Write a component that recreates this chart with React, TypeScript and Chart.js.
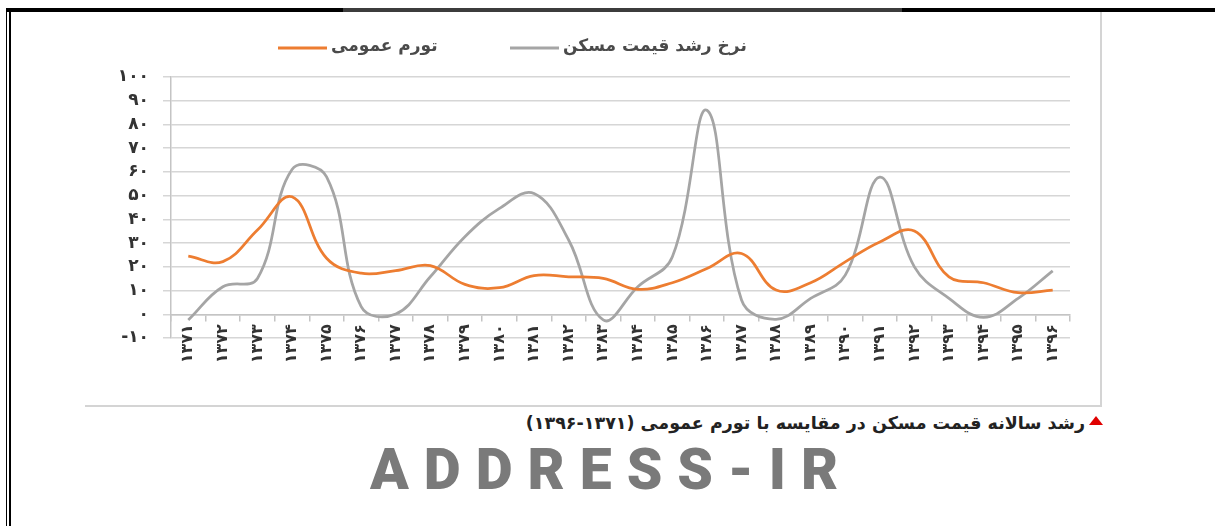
import React, { useEffect, useRef } from "react";
import { Chart, registerables } from "chart.js";

Chart.register(...registerables);

const years = ["1371","1372","1373","1374","1375","1376","1377","1378","1379","1380","1381","1382","1383","1384","1385","1386","1387","1388","1389","1390","1391","1392","1393","1394","1395","1396"];
const inflation = [24.5, 22.2, 35.5, 49.5, 23.6, 17.3, 18.4, 20.5, 12.6, 11.2, 16.3, 15.8, 15.1, 10.5, 13.3, 19.3, 25.6, 10.2, 13.3, 22.1, 30.5, 35.1, 15.8, 13.3, 9.1, 10.2];
const housing = [-2.4, 11.6, 15.1, 61, 57.9, 3.2, 0.1, 15.8, 32.7, 44.6, 50.9, 31.3, -2.4, 11.6, 24.2, 86, 6.0, -2.1, 6.7, 16.5, 57.8, 20, 6.7, -1.3, 6.7, 18.3];
const seriesNames = ["تورم عمومی", "نرخ رشد قیمت مسکن"];
const yMin = -10;
const yMax = 100;
const yStep = 10;
const caption = "رشد سالانه قیمت مسکن در مقایسه با تورم عمومی (۱۳۷۱-۱۳۹۶)";
const logoText = "ADDRESS-IR";

const FA = "۰۱۲۳۴۵۶۷۸۹";
const toFa = (s: string) => s.replace(/\d/g, (d) => FA[Number(d)]);

const spacingPlugin = {
  id: "tickSpacing",
  beforeDraw(chart: any) {
    chart.ctx.letterSpacing = "3px";
  },
};

const legendPlugin = {
  id: "fixedLegend",
  afterDraw(chart: any) {
    const ctx = chart.ctx;
    const left = chart.chartArea.left;
    const spots = [
      { lineX: left + 107, textX: left + 160 },
      { lineX: left + 339, textX: left + 392 },
    ];
    ctx.save();
    ctx.letterSpacing = "0px";
    chart.data.datasets.forEach((ds: any, i: number) => {
      const s = spots[i];
      const y = 28;
      ctx.strokeStyle = ds.borderColor;
      ctx.lineWidth = 3;
      ctx.beginPath();
      ctx.moveTo(s.lineX, y);
      ctx.lineTo(s.lineX + 49, y);
      ctx.stroke();
      ctx.fillStyle = "#4a4a4a";
      ctx.font = "bold 17px 'DejaVu Sans'";
      ctx.textBaseline = "middle";
      ctx.textAlign = "left";
      ctx.fillText(ds.label, s.textX, y - 1);
    });
    ctx.restore();
  },
};

function LineChart() {
  const ref = useRef<HTMLCanvasElement | null>(null);
  useEffect(() => {
    if (!ref.current) return;
    const chart = new Chart(ref.current, {
      type: "line",
      data: {
        labels: years,
        datasets: [
          {
            label: seriesNames[0],
            data: inflation,
            borderColor: "#ED7D31",
            backgroundColor: "#ED7D31",
            borderWidth: 2.75,
            pointRadius: 0,
            tension: 0.4,
            fill: false,
          },
          {
            label: seriesNames[1],
            data: housing,
            borderColor: "#A5A5A5",
            backgroundColor: "#A5A5A5",
            borderWidth: 2.75,
            pointRadius: 0,
            tension: 0.4,
            fill: false,
          },
        ],
      },
      options: {
        animation: false,
        responsive: true,
        maintainAspectRatio: false,
        layout: { padding: { left: 0, right: 30, top: 57, bottom: 69 } },
        plugins: {
          legend: { display: false },
          tooltip: { enabled: false },
        },
        scales: {
          x: {
            type: "category",
            position: { y: 0 } as any,
            offset: true,
            grid: {
              display: true,
              drawOnChartArea: false,
              drawTicks: true,
              tickLength: 6,
              color: "#c4c4c4",
              lineWidth: 1.5,
              offset: true,
            },
            border: { display: true, color: "#c4c4c4", width: 1.5 },
            ticks: {
              autoSkip: false,
              minRotation: 90,
              maxRotation: 90,
              padding: 4,
              color: "#333",
              font: { family: "'DejaVu Sans'", size: 16, weight: "bold" },
              callback: (_v: any, i: number) => toFa(years[i]),
            },
          },
          y: {
            min: yMin,
            max: yMax,
            afterFit: (scale: any) => {
              scale.width = 81;
            },
            grid: {
              color: "#d6d6d6",
              lineWidth: 1.5,
              tickLength: 8,
              drawTicks: true,
            },
            border: { display: true, color: "#c4c4c4", width: 1.5 },
            ticks: {
              autoSkip: false,
              stepSize: yStep,
              padding: 14,
              color: "#333",
              font: { family: "'DejaVu Sans'", size: 17, weight: "bold", lineHeight: 1 },
              callback: (v: any) => toFa(String(v)),
            },
          },
        },
      },
      plugins: [spacingPlugin, legendPlugin],
    } as any);
    return () => chart.destroy();
  }, []);
  return <canvas ref={ref} />;
}

export default function App() {
  return (
    <div style={{ position: "fixed", left: 0, top: 0, width: 1215, height: 526, background: "#fff", overflow: "hidden" }}>
      {/* frame */}
      <div style={{ position: "absolute", left: 6, top: 8, width: 1209, height: 4, background: "#000" }} />
      <div style={{ position: "absolute", left: 343, top: 8, width: 559, height: 4, background: "#3c3c3c" }} />
      <div style={{ position: "absolute", left: 6, top: 8, width: 1, height: 518, background: "#000" }} />
      <div style={{ position: "absolute", left: 9, top: 8, width: 2, height: 518, background: "#000" }} />
      {/* panel border */}
      <div
        style={{
          position: "absolute",
          left: 85,
          top: 12,
          width: 1015,
          height: 393,
          borderRight: "2px solid #d4d4d4",
          borderBottom: "2px solid #d4d4d4",
        }}
      />
      <div style={{ position: "absolute", left: 90, top: 20, width: 1010, height: 387 }}>
        <LineChart />
      </div>
      {/* caption */}
      <div
        style={{
          position: "absolute",
          left: 1089,
          top: 416,
          width: 0,
          height: 0,
          borderLeft: "7px solid transparent",
          borderRight: "7px solid transparent",
          borderBottom: "9px solid #e00000",
        }}
      />
      <div
        style={{
          position: "absolute",
          right: 130,
          top: 412,
          direction: "rtl",
          whiteSpace: "nowrap",
          fontFamily: "'DejaVu Sans'",
          fontWeight: "bold",
          fontSize: 17.5,
          lineHeight: "22px",
          color: "#222",
        }}
      >
        {caption}
      </div>
      {/* logo */}
      <div
        style={{
          position: "absolute",
          left: 370,
          top: 441,
          fontFamily: "Roboto",
          fontWeight: 900,
          fontSize: 57,
          lineHeight: 1,
          letterSpacing: 15,
          color: "#7a7a7a",
          whiteSpace: "nowrap",
        }}
      >
        {logoText}
      </div>
    </div>
  );
}
